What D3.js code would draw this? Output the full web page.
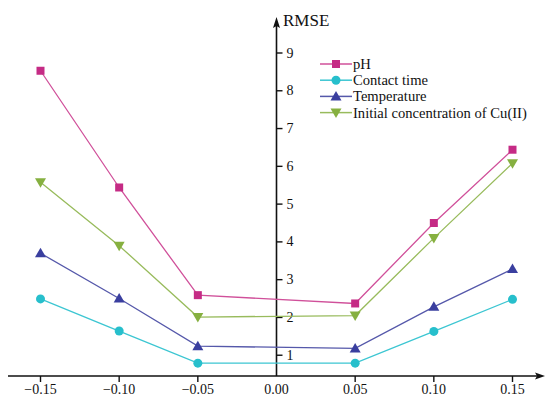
<!DOCTYPE html>
<html>
<head>
<meta charset="utf-8">
<script src="https://cdn.jsdelivr.net/npm/d3@7"></script>
<style>
  html, body { margin: 0; padding: 0; background: #fff; }
  svg { display: block; }
  text { font-family: "Liberation Serif", "Times New Roman", serif; fill: #111; }
</style>
</head>
<body>
<div id="chart"></div>
<script>
// Data
const xValues = [-0.15, -0.10, -0.05, 0.05, 0.10, 0.15];
const xTicks = [-0.15, -0.10, -0.05, 0.00, 0.05, 0.10, 0.15];
const yTicks = [1, 2, 3, 4, 5, 6, 7, 8, 9];
const seriesNames = ['pH', 'Contact time', 'Temperature', 'Initial concentration of Cu(II)'];
const phValues = [8.53, 5.44, 2.59, 2.37, 4.50, 6.44];
const contactValues = [2.49, 1.64, 0.79, 0.79, 1.63, 2.48];
const temperatureValues = [3.70, 2.50, 1.24, 1.18, 2.28, 3.28];
const initialValues = [5.58, 3.90, 2.01, 2.05, 4.10, 6.08];

const width = 545, height = 398;

const series = [
  { name: seriesNames[0], values: phValues, color: '#c52b85', line: '#d0509a', symbol: 'square' },
  { name: seriesNames[1], values: contactValues, color: '#27bfcc', line: '#3cc6d2', symbol: 'circle' },
  { name: seriesNames[2], values: temperatureValues, color: '#3a3f9f', line: '#5558aa', symbol: 'up' },
  { name: seriesNames[3], values: initialValues, color: '#86b040', line: '#98bb5c', symbol: 'down' }
];

const x = d3.scaleLinear().domain([-0.15, 0.15]).range([40.5, 512.5]);
const y = d3.scaleLinear().domain([0.45, 9]).range([376, 53]);

const svg = d3.select('#chart').append('svg')
  .attr('width', width)
  .attr('height', height);

const axisX0 = x(0);
const axisY0 = y(0.45);

// x axis line with arrow
svg.append('line')
  .attr('x1', 8).attr('x2', 540)
  .attr('y1', axisY0).attr('y2', axisY0)
  .attr('stroke', '#111').attr('stroke-width', 1.6);
svg.append('path')
  .attr('d', `M545,${axisY0} L535,${axisY0 - 3.5} L537,${axisY0} L535,${axisY0 + 3.5} Z`)
  .attr('fill', '#111');

// y axis line with arrow
svg.append('line')
  .attr('x1', axisX0).attr('x2', axisX0)
  .attr('y1', axisY0).attr('y2', 24)
  .attr('stroke', '#111').attr('stroke-width', 1.6);
svg.append('path')
  .attr('d', `M${axisX0},17 L${axisX0 - 3.5},28 L${axisX0},26 L${axisX0 + 3.5},28 Z`)
  .attr('fill', '#111');

svg.append('text')
  .attr('x', 283).attr('y', 26)
  .attr('font-size', 17)
  .text('RMSE');

// x ticks
const xt = svg.append('g');
xTicks.forEach(t => {
  if (t !== 0) {
    xt.append('line')
      .attr('x1', x(t)).attr('x2', x(t))
      .attr('y1', axisY0).attr('y2', axisY0 + 6)
      .attr('stroke', '#111').attr('stroke-width', 1.4);
  }
  xt.append('text')
    .attr('x', x(t)).attr('y', 394)
    .attr('text-anchor', 'middle')
    .attr('font-size', 14)
    .text(d3.format('.2f')(t));
});

// y ticks (pointing right)
const yt = svg.append('g');
yTicks.forEach(t => {
  yt.append('line')
    .attr('x1', axisX0).attr('x2', axisX0 + 6)
    .attr('y1', y(t)).attr('y2', y(t))
    .attr('stroke', '#111').attr('stroke-width', 1.4);
  yt.append('text')
    .attr('x', axisX0 + 10).attr('y', y(t) + 4.5)
    .attr('font-size', 14)
    .text(t);
});

function drawSymbol(g, kind, cx, cy, color) {
  if (kind === 'square') {
    g.append('rect').attr('x', cx - 4).attr('y', cy - 4)
      .attr('width', 8).attr('height', 8).attr('fill', color);
  } else if (kind === 'circle') {
    g.append('circle').attr('cx', cx).attr('cy', cy).attr('r', 4.5).attr('fill', color);
  } else if (kind === 'up') {
    g.append('path').attr('d', `M${cx},${cy - 5.5} L${cx + 5.5},${cy + 4} L${cx - 5.5},${cy + 4} Z`)
      .attr('fill', color);
  } else {
    g.append('path').attr('d', `M${cx},${cy + 5.5} L${cx + 5.5},${cy - 4} L${cx - 5.5},${cy - 4} Z`)
      .attr('fill', color);
  }
}

const line = d3.line()
  .x((d, i) => x(xValues[i]))
  .y(d => y(d));

series.forEach(s => {
  const g = svg.append('g');
  g.append('path')
    .attr('d', line(s.values))
    .attr('fill', 'none')
    .attr('stroke', s.line)
    .attr('stroke-width', 1.3);
  s.values.forEach((v, i) => drawSymbol(g, s.symbol, x(xValues[i]), y(v), s.color));
});

// legend
const legend = svg.append('g').attr('transform', 'translate(320, 64)');
series.forEach((s, i) => {
  const row = legend.append('g').attr('transform', `translate(0, ${i * 16.2})`);
  row.append('line')
    .attr('x1', 0).attr('x2', 32)
    .attr('y1', 0).attr('y2', 0)
    .attr('stroke', s.line).attr('stroke-width', 1.5);
  drawSymbol(row, s.symbol, 16, 0, s.color);
  row.append('text')
    .attr('x', 33).attr('y', 5)
    .attr('font-size', 14.6)
    .text(s.name);
});
</script>
</body>
</html>
